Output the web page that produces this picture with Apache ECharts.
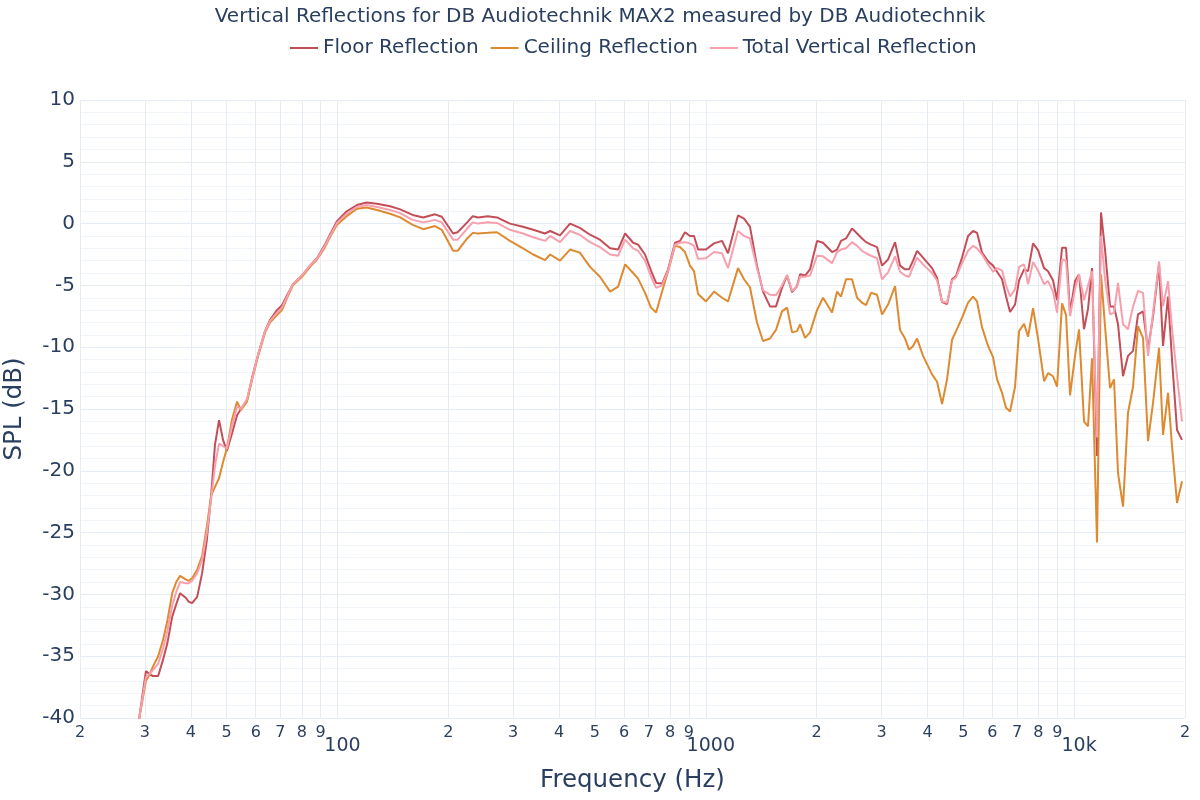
<!DOCTYPE html>
<html><head><meta charset="utf-8">
<script src="https://cdn.jsdelivr.net/npm/echarts@6/dist/echarts.min.js"></script>
<style>html,body{margin:0;padding:0;background:#fff}#c{width:1200px;height:800px}</style>
</head><body><div id="c"></div>
<script>
const freqs = [28.9, 30.2, 31.0, 31.6, 32.6, 33.6, 34.5, 35.6, 36.5, 37.4, 37.8, 38.8, 39.5, 40.3, 41.6, 42.9, 44.2, 45.4, 46.5, 47.7, 48.9, 50.1, 51.7, 53.4, 54.7, 56.8, 58.6, 60.9, 63.6, 65.6, 68.5, 70.7, 73.0, 75.7, 80.1, 84.2, 88.0, 92.5, 95.4, 99.7, 106, 113, 120, 128, 139, 148, 160, 171, 184, 192, 206, 212, 225, 233, 241, 256, 271, 294, 319, 340, 366, 378, 402, 428, 455, 485, 516, 550, 578, 604, 635, 655, 684, 710, 733, 761, 790, 825, 851, 878, 906, 929, 953, 1001, 1053, 1107, 1149, 1223, 1270, 1318, 1377, 1430, 1494, 1551, 1610, 1662, 1715, 1769, 1803, 1860, 1919, 2005, 2081, 2202, 2272, 2329, 2403, 2495, 2575, 2656, 2723, 2810, 2917, 3010, 3125, 3265, 3368, 3475, 3563, 3654, 3746, 3889, 4114, 4245, 4380, 4519, 4662, 4780, 4963, 5153, 5316, 5451, 5624, 5839, 6024, 6177, 6373, 6534, 6700, 6912, 7088, 7313, 7498, 7736, 7981, 8287, 8496, 8766, 8988, 9273, 9508, 9749, 10057, 10312, 10639, 10908, 11184, 11539, 11831, 12131, 12516, 12833, 13158, 13576, 14007, 14452, 14911, 15384, 15873, 16377, 17003, 17433, 17986, 18441, 19027, 19631];

const floorReflection = [-40.2, -36.2, -36.5, -36.6, -36.6, -35.3, -34.0, -31.8, -30.8, -29.9, -30.0, -30.3, -30.6, -30.7, -30.2, -28.3, -25.6, -22.0, -17.9, -15.9, -17.5, -18.4, -17.0, -15.5, -15.0, -14.3, -12.5, -10.6, -8.7, -7.8, -7.0, -6.6, -5.8, -4.9, -4.2, -3.4, -2.8, -1.7, -0.9, 0.2, 1.0, 1.5, 1.7, 1.6, 1.4, 1.15, 0.7, 0.5, 0.75, 0.55, -0.8, -0.7, 0.1, 0.6, 0.5, 0.6, 0.5, 0.0, -0.25, -0.5, -0.8, -0.6, -0.95, 0.0, -0.35, -0.9, -1.3, -2.0, -2.1, -0.8, -1.55, -1.7, -2.5, -3.8, -4.8, -4.85, -3.7, -1.55, -1.4, -0.7, -1.0, -1.0, -2.1, -2.1, -1.6, -1.4, -2.4, 0.66, 0.4, -0.25, -3.4, -5.5, -6.7, -6.7, -5.2, -4.2, -5.55, -5.05, -4.1, -4.2, -3.7, -1.4, -1.55, -2.3, -2.1, -1.4, -1.2, -0.4, -0.8, -1.2, -1.5, -1.7, -1.9, -3.4, -2.9, -1.5, -3.4, -3.7, -3.7, -3.0, -2.2, -2.75, -3.6, -4.4, -6.35, -6.5, -4.5, -4.25, -2.75, -1.0, -0.6, -0.75, -2.35, -3.05, -3.4, -3.9, -4.5, -5.9, -7.15, -6.55, -4.6, -3.7, -3.85, -1.6, -2.15, -3.6, -3.85, -4.6, -6.2, -1.95, -1.95, -7.2, -4.65, -4.1, -8.55, -6.9, -3.6, -18.8, 0.9, -2.1, -6.7, -6.7, -8.15, -12.35, -10.7, -10.3, -7.35, -7.1, -10.2, -7.5, -3.3, -9.9, -5.9, -11.0, -16.7, -17.5];

const ceilingReflection = [-40.2, -37.0, -36.4, -35.8, -35.0, -33.7, -32.2, -29.9, -29.0, -28.5, -28.4, -28.8, -28.9, -28.7, -28.0, -26.9, -24.5, -22.0, -21.3, -20.6, -19.3, -18.2, -15.9, -14.4, -15.1, -14.4, -12.7, -10.7, -8.8, -8.0, -7.4, -7.0, -6.0, -5.0, -4.3, -3.5, -2.9, -1.9, -1.1, -0.1, 0.6, 1.2, 1.3, 1.1, 0.8, 0.5, -0.1, -0.45, -0.2, -0.5, -2.2, -2.2, -1.2, -0.75, -0.8, -0.75, -0.7, -1.4, -2.0, -2.5, -2.95, -2.5, -3.0, -2.1, -2.35, -3.5, -4.3, -5.5, -5.1, -3.3, -4.0, -4.45, -5.6, -6.8, -7.2, -5.5, -3.85, -1.8, -1.9, -2.3, -3.4, -3.85, -5.7, -6.3, -5.5, -6.0, -6.3, -3.6, -4.5, -5.15, -8.0, -9.5, -9.3, -8.6, -7.1, -6.8, -8.8, -8.7, -8.15, -9.25, -8.8, -7.0, -6.0, -7.2, -5.5, -5.9, -4.5, -4.5, -6.0, -6.4, -6.6, -5.6, -5.75, -7.35, -6.55, -5.05, -8.6, -9.3, -10.2, -9.9, -9.3, -10.7, -12.2, -12.8, -14.6, -12.6, -9.4, -8.7, -7.6, -6.4, -5.9, -6.3, -8.4, -9.9, -10.8, -12.6, -13.7, -14.9, -15.2, -13.2, -8.7, -8.1, -9.15, -6.85, -9.3, -12.75, -12.1, -12.35, -13.2, -6.45, -7.4, -13.9, -10.7, -8.55, -16.0, -16.4, -10.9, -25.8, -4.1, -8.3, -13.3, -12.6, -20.2, -22.9, -15.3, -13.2, -8.3, -9.25, -17.6, -14.5, -10.05, -17.1, -13.7, -18.0, -22.6, -20.85];

const totalVerticalReflection = [-40.2, -36.7, -36.4, -36.1, -35.6, -34.4, -33.0, -30.9, -29.8, -29.0, -29.0, -29.1, -29.1, -28.9, -28.3, -27.2, -25.0, -22.3, -19.6, -17.8, -18.0, -18.2, -16.4, -14.8, -15.0, -14.2, -12.6, -10.6, -8.7, -7.9, -7.2, -6.8, -5.9, -4.9, -4.2, -3.4, -2.85, -1.8, -1.0, 0.05, 0.8, 1.35, 1.5, 1.35, 1.1, 0.85, 0.3, 0.1, 0.3, 0.1, -1.3, -1.3, -0.4, 0.1, 0.0, 0.1, 0.05, -0.5, -0.8, -1.1, -1.4, -1.0, -1.5, -0.6, -0.9, -1.5, -1.9, -2.5, -2.6, -1.3, -2.0, -2.2, -3.0, -4.3, -5.2, -5.0, -3.8, -1.7, -1.55, -1.5, -1.6, -1.8, -2.85, -2.8, -2.3, -2.4, -3.6, -0.6, -1.0, -1.2, -3.6, -5.4, -5.75, -5.8, -5.0, -4.15, -5.45, -5.1, -4.3, -4.3, -4.2, -2.6, -2.65, -3.2, -2.3, -2.1, -2.0, -1.5, -1.8, -2.2, -2.4, -2.6, -2.8, -4.5, -3.95, -2.65, -3.9, -4.2, -4.3, -3.5, -2.75, -3.3, -4.0, -4.6, -6.3, -6.4, -4.6, -4.35, -3.2, -2.2, -1.8, -2.0, -2.5, -3.3, -3.9, -3.6, -3.8, -5.0, -5.9, -5.3, -3.5, -3.3, -4.9, -3.1, -3.8, -4.9, -4.65, -5.5, -7.2, -2.9, -3.0, -7.5, -5.3, -4.1, -6.2, -5.0, -3.85, -17.3, -1.0, -4.5, -7.35, -7.2, -4.8, -8.15, -8.55, -6.7, -5.45, -5.6, -10.7, -7.2, -3.05, -6.7, -4.65, -8.5, -12.35, -16.0];

const yTicks = [-40, -35, -30, -25, -20, -15, -10, -5, 0, 5, 10];
const xTickFreqs = [20, 30, 40, 50, 60, 70, 80, 90, 100, 200, 300, 400, 500, 600, 700, 800, 900, 1000, 2000, 3000, 4000, 5000, 6000, 7000, 8000, 9000, 10000, 20000];
const xMajorLabels = {100: '100', 1000: '1000', 10000: '10k'};

const FONT = '"DejaVu Sans", Verdana, sans-serif';
const TXT = '#2a3f5f';
const GRID = '#e6ecf4';
const toXY = arr => freqs.map((f, i) => [Math.log10(f), arr[i]]);
const xVals = xTickFreqs.map(f => Math.log10(f));

const chart = echarts.init(document.getElementById('c'), null, {renderer: 'canvas'});
chart.setOption({
  animation: false,
  backgroundColor: '#ffffff',
  textStyle: {fontFamily: FONT, color: TXT},
  title: {
    text: 'Vertical Reflections for DB Audiotechnik MAX2 measured by DB Audiotechnik',
    left: 'center', top: 2,
    textStyle: {fontFamily: FONT, fontSize: 20, fontWeight: 'normal', color: TXT}
  },
  legend: {
    top: 33, left: 285, itemWidth: 28, itemHeight: 2, itemGap: 12, icon: 'rect',
    textStyle: {fontFamily: FONT, fontSize: 20, color: TXT},
    data: ['Floor Reflection', 'Ceiling Reflection', 'Total Vertical Reflection']
  },
  grid: {left: 80, right: 15, top: 100, bottom: 82, containLabel: false, outerBoundsMode: 'none'},
  xAxis: {
    type: 'value',
    min: Math.log10(20), max: Math.log10(20000),
    name: 'Frequency (Hz)', nameLocation: 'middle', nameGap: 50,
    nameTextStyle: {fontFamily: FONT, fontSize: 24.5, color: TXT},
    axisLine: {show: false},
    axisTick: {show: false, customValues: xVals},
    splitLine: {show: true, lineStyle: {color: GRID, width: 1}},
    axisLabel: {
      customValues: xVals, showMinLabel: true, showMaxLabel: true, margin: 7,
      formatter: function (v) {
        const f = Math.round(Math.pow(10, v));
        if (xMajorLabels[f]) return '{b|' + xMajorLabels[f] + '}';
        return '{s|' + String(f)[0] + '}';
      },
      rich: {
        s: {fontFamily: FONT, fontSize: 16, color: TXT},
        b: {fontFamily: FONT, fontSize: 19, color: TXT, padding: [12, 0, 0, 10]}
      }
    }
  },
  yAxis: {
    type: 'value', min: yTicks[0], max: yTicks[yTicks.length - 1], interval: 5,
    name: 'SPL (dB)', nameLocation: 'middle', nameGap: 53,
    nameTextStyle: {fontFamily: FONT, fontSize: 24.5, color: TXT},
    axisLine: {show: false}, axisTick: {show: false},
    axisLabel: {fontFamily: FONT, fontSize: 20, color: TXT, margin: 5},
    splitLine: {show: true, lineStyle: {color: GRID, width: 1}},
    minorTick: {show: false, splitNumber: 5},
    minorSplitLine: {show: true, lineStyle: {color: '#f1f4f9', width: 1}}
  },
  series: [
    {name: 'Floor Reflection', type: 'line', data: toXY(floorReflection), symbol: 'none', showSymbol: false,
     lineStyle: {width: 2, color: '#c44e58'}, itemStyle: {color: '#c44e58'}, clip: true},
    {name: 'Ceiling Reflection', type: 'line', data: toXY(ceilingReflection), symbol: 'none', showSymbol: false,
     lineStyle: {width: 2, color: '#dd8a30'}, itemStyle: {color: '#dd8a30'}, clip: true},
    {name: 'Total Vertical Reflection', type: 'line', data: toXY(totalVerticalReflection), symbol: 'none', showSymbol: false,
     lineStyle: {width: 2, color: '#f7a0ad'}, itemStyle: {color: '#f7a0ad'}, clip: true}
  ]
});
</script></body></html>
